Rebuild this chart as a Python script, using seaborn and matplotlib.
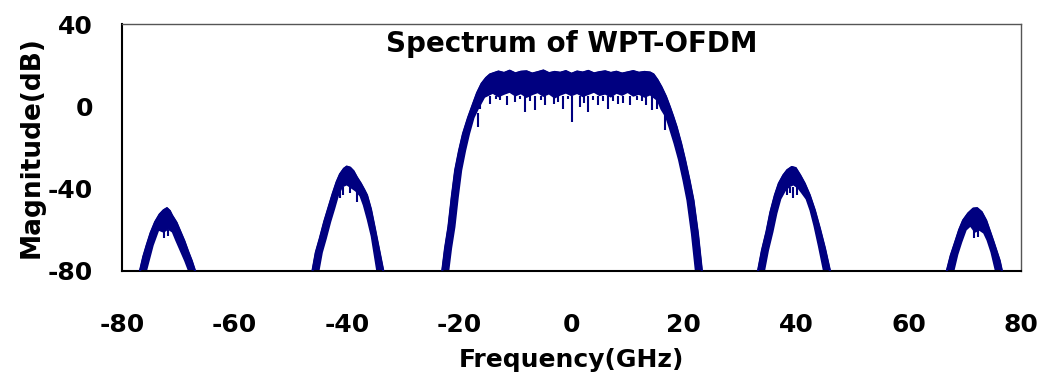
import numpy as np
import pandas as pd
import matplotlib
matplotlib.use("Agg")
import matplotlib.pyplot as plt
import seaborn as sns

# ---------------- data (GHz, dB) ----------------
# each lobe: outer envelope (upper edge of the noisy trace) and inner envelope
lobeA_outer_f = [-76.8, -76.2, -75.6, -74.9, -74.1, -73.3, -72.6, -72.0, -71.5, -71.1,
                 -70.3, -69.6, -68.9, -68.2, -67.6, -67.0]
lobeA_outer_db = [-80, -73.0, -67.5, -61.5, -56.2, -52.5, -50.5, -49.5, -50.8, -53.0,
                  -56.5, -61.0, -65.5, -70.8, -75.0, -80]
lobeA_inner_f = [-75.7, -74.5, -73.5, -72.6, -71.8, -71.0, -70.4, -69.6, -68.8, -68.1]
lobeA_inner_db = [-80, -67.5, -60.0, -61.0, -59.5, -61.0, -65.0, -70.0, -75.0, -80]

lobeB_outer_f = [-46.1, -45.5, -44.8, -44.0, -43.3, -42.5, -41.8, -41.2, -40.5, -40.0,
                 -39.4, -38.8, -38.2, -37.5, -36.9, -36.4, -35.7, -35.0, -34.3, -33.5]
lobeB_outer_db = [-80, -71.0, -64.3, -56.0, -49.7, -42.5, -36.8, -33.0, -30.3, -29.3,
                  -29.8, -31.5, -34.5, -37.5, -40.5, -43.2, -50.0, -59.4, -69.0, -80]
lobeB_inner_f = [-45.0, -44.4, -43.7, -42.9, -42.2, -41.5, -40.8, -40.0, -39.2, -38.4,
                 -37.6, -37.0, -36.3, -35.6, -34.6]
lobeB_inner_db = [-80, -71.0, -64.3, -56.0, -49.7, -43.0, -39.0, -38.0, -39.5, -41.0,
                  -43.5, -48.0, -55.0, -63.0, -80]

main_outer_f = [-23.0, -22.5, -21.9, -21.3, -20.7, -20.0, -19.3, -18.4, -17.5, -16.8,
                -16.0, -15.2, -14.5, -13, -12, -11, -10, -9, -8, -7, -6, -5, -4, -3,
                -2, -1, 0, 1, 2, 3, 4, 5, 6, 7, 8, 9, 10, 11, 12, 13, 14.0, 14.6, 15.3,
                16.0, 16.8, 17.5, 18.1, 18.7, 19.5, 20.2, 21.0, 21.7, 22.5, 23.2]
main_outer_db = [-80, -69.0, -58.6, -44.0, -31.1, -21.5, -13.3, -5.5, 1.3, 6.5,
                 11.0, 13.8, 15.5, 16.9, 16.2, 17.3, 16.0, 16.8, 17.0, 15.9, 16.6,
                 17.4, 16.1, 16.7, 16.3, 17.1, 15.8, 16.9, 16.4, 17.2, 16.0, 16.6,
                 17.0, 16.2, 16.8, 15.9, 16.5, 17.1, 16.3, 16.7, 16.4, 15.5, 12.8,
                 9.4, 4.8, -0.3, -5.0, -10.0, -18.0, -26.0, -36.0, -45.7, -62.0, -80]
main_inner_f = [-21.9, -21.4, -20.8, -20.2, -19.6, -18.9, -18.2, -17.4, -16.6, -15.5,
                -14, -13, -12, -11, -10, -9, -8, -7, -6, -5, -4, -3, -2, -1, 0, 1, 2,
                3, 4, 5, 6, 7, 8, 9, 10, 11, 12, 13, 14, 15.3, 16.0, 16.8, 17.4, 18.3,
                19.1, 19.9, 20.6, 21.4, 22.1]
main_inner_db = [-80, -69.0, -58.6, -44.0, -31.1, -21.5, -13.3, -5.5, -1.0, 4.5,
                 6.5, 4.8, 6.0, 7.0, 5.2, 6.3, 4.5, 5.8, 6.8, 5.0, 6.2, 4.2, 5.6, 6.6,
                 5.3, 6.4, 4.9, 5.9, 7.0, 5.4, 6.1, 4.7, 6.5, 5.5, 6.9, 5.1, 6.0, 4.6,
                 5.7, 3.0, -1.5, -5.0, -10.0, -18.0, -26.0, -36.0, -45.7, -62.0, -80]

lobeD_outer_f = [33.2, 33.9, 34.7, 35.4, 36.2, 36.9, 37.7, 38.4, 39.2, 39.9, 40.7, 41.5,
                 42.4, 43.3, 44.2, 45.1, 46.0]
lobeD_outer_db = [-80, -70.0, -61.0, -51.5, -43.2, -37.5, -33.5, -31.0, -29.5, -30.0,
                  -33.5, -37.5, -43.2, -50.5, -59.4, -69.0, -80]
lobeD_inner_f = [34.3, 35.0, 35.8, 36.5, 37.2, 38.0, 38.7, 39.5, 40.3, 41.0, 41.8,
                 42.5, 43.2, 44.0, 44.9]
lobeD_inner_db = [-80, -70.0, -61.0, -52.0, -45.0, -41.0, -39.0, -38.0, -39.5, -42.0,
                  -45.0, -50.5, -58.0, -68.0, -80]

lobeE_outer_f = [66.8, 67.5, 68.3, 69.0, 69.7, 70.6, 71.5, 72.2, 73.0, 73.8, 74.5, 75.1,
                 75.7, 76.2, 76.6]
lobeE_outer_db = [-80, -72.5, -65.9, -60.0, -55.4, -52.0, -49.7, -49.5, -51.4, -55.5,
                  -61.0, -65.8, -70.8, -75.0, -80]
lobeE_inner_f = [68.0, 68.7, 69.4, 70.2, 71.0, 71.8, 72.6, 73.4, 74.0, 74.7, 75.5]
lobeE_inner_db = [-80, -72.0, -66.0, -60.0, -58.0, -61.0, -60.0, -61.5, -65.0, -70.8, -80]

# downward noise spikes: frequency, top of spike, bottom of spike
dip_f = [-16.6, -16.3, -14.5, -13.5, -12.7, -11.5, -10.0, -9.2, -8.3, -7.3, -6.5,
         -5.5, -4.7, -3.2, -2.4, -1.5, -0.7, 0.0, 1.5, 2.2, 3.0, 3.8, 4.8, 5.6,
         6.5, 7.4, 8.3, 9.2, 10.4, 11.6, 12.5, 13.2, 14.3, 15.2, 16.6,
         -41.2, -40.6, -39.5, -38.2, 38.3, 38.9, 39.4, 40.1,
         -72.6, -71.8, 71.6, 72.4]
dip_top = [-3, 4, 5, 5, 5, 5, 5, 5, 5, 5, 5,
           5, 5, 5, 5, 5, 5, 5, 5, 5, 5, 5, 5, 5,
           5, 5, 5, 5, 5, 5, 5, 5, 5, 5, 1,
           -39, -39, -39, -39, -39, -39, -39, -39,
           -60, -60, -60, -60]
dip_bottom = [-10.0, -1.1, 1.3, 3.5, 2.9, 0.5, 2.0, 3.8, -2.8, 2.5, -1.9,
              3.0, 0.5, 1.3, 2.2, -1.1, 3.5, -7.6, -0.3, 1.8, -2.8, 3.2, 0.5, 2.4,
              -1.1, 2.8, 1.3, 1.5, 0.5, 2.9, 2.5, 0.5, -1.9, -1.1, -11.7,
              -44.7, -43.0, -42.0, -46.5, -43.0, -42.0, -44.7, -43.0,
              -64.0, -63.0, -64.0, -63.5]

x_ticks = [-80, -60, -40, -20, 0, 20, 40, 60, 80]
y_ticks = [-80, -40, 0, 40]

lobes = [
    (lobeA_outer_f, lobeA_outer_db, lobeA_inner_f, lobeA_inner_db),
    (lobeB_outer_f, lobeB_outer_db, lobeB_inner_f, lobeB_inner_db),
    (main_outer_f, main_outer_db, main_inner_f, main_inner_db),
    (lobeD_outer_f, lobeD_outer_db, lobeD_inner_f, lobeD_inner_db),
    (lobeE_outer_f, lobeE_outer_db, lobeE_inner_f, lobeE_inner_db),
]

# ---------------- drawing ----------------
sns.set_style("white")
plt.rcParams["font.family"] = ["DejaVu Sans"]
plt.rcParams["font.weight"] = "bold"
plt.rcParams["text.color"] = "black"
plt.rcParams["axes.labelcolor"] = "black"
plt.rcParams["xtick.color"] = "black"
plt.rcParams["ytick.color"] = "black"

color = "#000080"
fig = plt.figure(figsize=(10.42, 3.76), dpi=100)
ax = fig.add_axes([122 / 1042, 1 - 271 / 376, (1021 - 122) / 1042, (271 - 24) / 376])

for k, (of, odb, inf, indb) in enumerate(lobes):
    poly_f = list(of) + list(inf)[::-1]
    poly_db = list(odb) + list(indb)[::-1]
    ax.fill(poly_f, poly_db, color=color, lw=1.2, edgecolor=color, zorder=2)
    df = pd.DataFrame({"f": of, "db": odb})
    sns.lineplot(data=df, x="f", y="db", sort=False, estimator=None,
                 color=color, lw=1.6, ax=ax, zorder=3)

ax.vlines(dip_f, dip_bottom, dip_top, color=color, lw=1.5, zorder=3)

ax.set_xlim(-80, 80)
ax.set_ylim(-80, 40)
ax.set_xticks(x_ticks)
ax.set_yticks(y_ticks)
ax.set_xticklabels([str(v) for v in x_ticks], fontsize=18, fontweight="bold")
ax.set_yticklabels([str(v) for v in y_ticks], fontsize=18, fontweight="bold")
ax.tick_params(axis="x", direction="in", length=7, width=1, color="#444444",
               labelcolor="black", pad=30)
ax.tick_params(axis="y", direction="in", length=7, width=1, color="#444444",
               labelcolor="black", pad=21)

ax.set_xlabel("Frequency(GHz)", fontsize=18, fontweight="bold", labelpad=8,
              color="black")
ax.set_ylabel("Magnitude(dB)", fontsize=19, fontweight="bold", labelpad=2,
              color="black")
ax.text(0.5, 0.887, "Spectrum of WPT-OFDM", transform=ax.transAxes,
        ha="center", va="baseline", fontsize=20, fontweight="bold", color="black")

for side in ["left", "bottom"]:
    ax.spines[side].set_color("black")
    ax.spines[side].set_linewidth(1.5)
for side in ["top", "right"]:
    ax.spines[side].set_color("#555555")
    ax.spines[side].set_linewidth(1.0)

fig.savefig("out.png", dpi=100)
